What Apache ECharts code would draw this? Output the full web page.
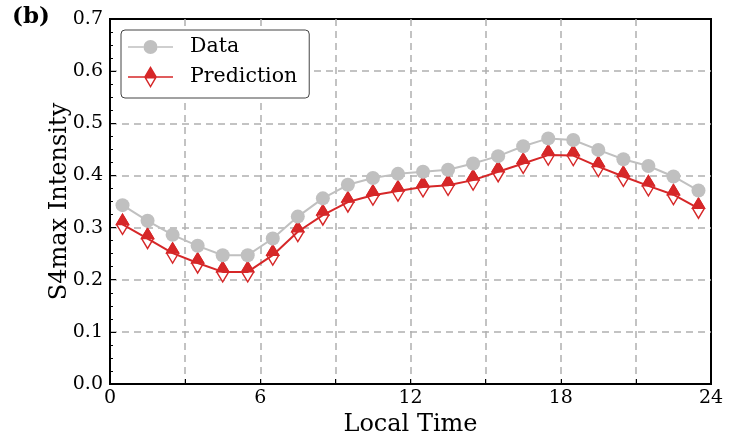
<!DOCTYPE html>
<html>
<head>
<meta charset="utf-8">
<script src="https://cdn.jsdelivr.net/npm/echarts@6/dist/echarts.min.js"></script>
<style>
  html, body { margin: 0; padding: 0; background: #fff; }
  #chart { width: 739px; height: 443px; }
</style>
</head>
<body>
<div id="chart"></div>
<script>
var hours = [0.5, 1.5, 2.5, 3.5, 4.5, 5.5, 6.5, 7.5, 8.5, 9.5, 10.5, 11.5,
  12.5, 13.5, 14.5, 15.5, 16.5, 17.5, 18.5, 19.5, 20.5, 21.5, 22.5, 23.5];
var dataValues = [0.343, 0.313, 0.286, 0.265, 0.247, 0.247, 0.279, 0.321, 0.356, 0.382, 0.395, 0.403,
  0.407, 0.411, 0.423, 0.437, 0.456, 0.471, 0.468, 0.449, 0.431, 0.418, 0.398, 0.371];
var predValues = [0.306, 0.279, 0.251, 0.232, 0.215, 0.215, 0.247, 0.292, 0.324, 0.349, 0.362, 0.370,
  0.378, 0.381, 0.391, 0.407, 0.423, 0.439, 0.438, 0.417, 0.398, 0.380, 0.363, 0.337];
var xTickLabels = [0, 6, 12, 18, 24];
var yTickLabels = ['0.0', '0.1', '0.2', '0.3', '0.4', '0.5', '0.6', '0.7'];

var FONT = 'DejaVu Serif';
var GRAY = '#c0c0c0';
var RED = '#d62728';

function pairs(vals) {
  return hours.map(function (h, i) { return [h, vals[i]]; });
}

// legend icons drawn as paths (line + marker), bbox 45x22
var dataIcon = 'path://M22 0L22.01 0L22 0.01Z M22 22L22.01 22L22 21.99Z ' +
  'M0 10.2L15.5 10.2L15.5 11.8L0 11.8Z M29.5 10.2L45 10.2L45 11.8L29.5 11.8Z ' +
  'M15.5 11A7 7 0 1 0 29.5 11A7 7 0 1 0 15.5 11Z';
var predIcon = 'path://M0 10.25L45 10.25L45 11.75L0 11.75Z ' +
  'M22.5 0L29 11L16 11Z ' +
  'M16 11L29 11L22.5 22Z M18.6 12.4L22.5 19.2L26.4 12.4Z';

var chart = echarts.init(document.getElementById('chart'));

var option = {
  backgroundColor: '#fff',
  animation: false,
  textStyle: { fontFamily: FONT, color: '#000' },
  graphic: [{
    type: 'text', left: 12, top: 6,
    style: { text: '(b)', font: 'bold 23px "DejaVu Serif"', fill: '#000' }
  }],
  grid: {
    left: 110, right: 28, top: 19, bottom: 59,
    show: true, borderColor: '#000', borderWidth: 2, backgroundColor: 'transparent'
  },
  legend: {
    left: 121, top: 30,
    orient: 'vertical',
    itemWidth: 45, itemHeight: 22, itemGap: 8,
    padding: [6, 12, 10, 7],
    backgroundColor: '#fff',
    borderColor: '#444', borderWidth: 1, borderRadius: 4,
    textStyle: { fontFamily: FONT, fontSize: 20.5, color: '#000', padding: [0, 0, 0, 12] },
    data: [
      { name: 'Data', icon: dataIcon, itemStyle: { borderWidth: 0 } },
      { name: 'Prediction', icon: predIcon, itemStyle: { borderWidth: 0 } }
    ]
  },
  xAxis: {
    type: 'value', min: 0, max: 24, interval: 3,
    name: 'Local Time', nameLocation: 'middle', nameGap: 29,
    nameTextStyle: { fontFamily: FONT, fontSize: 24, color: '#000' },
    axisLine: { lineStyle: { color: '#000', width: 2 } },
    axisTick: { inside: true, length: 5, lineStyle: { color: '#000' } },
    axisLabel: {
      fontFamily: FONT, fontSize: 19, color: '#000', margin: 5,
      formatter: function (v) { return xTickLabels.indexOf(v) >= 0 ? String(v) : ''; }
    },
    splitLine: {
      show: true, showMinLine: false, showMaxLine: false,
      lineStyle: { color: '#b0b0b0', width: 1.5, type: [7, 5] }
    }
  },
  yAxis: {
    type: 'value', min: 0, max: 0.7, interval: 0.1,
    name: 'S4max Intensity', nameLocation: 'middle', nameGap: 38,
    nameMoveOverlap: false,
    nameTextStyle: { fontFamily: FONT, fontSize: 24, color: '#000' },
    axisLine: { lineStyle: { color: '#000', width: 2 } },
    axisTick: { inside: true, length: 6, lineStyle: { color: '#000' } },
    minorTick: { show: true, splitNumber: 4, length: 3, lineStyle: { color: '#000' } },
    axisLabel: {
      fontFamily: FONT, fontSize: 19, color: '#000', margin: 7,
      formatter: function (v) { return yTickLabels[Math.round(v * 10)]; }
    },
    splitLine: {
      show: true, showMinLine: false, showMaxLine: false,
      lineStyle: { color: '#b0b0b0', width: 1.5, type: [7, 5] }
    }
  },
  series: [
    {
      name: 'Data', type: 'line', data: pairs(dataValues),
      color: GRAY,
      lineStyle: { color: GRAY, width: 2 },
      symbol: 'circle', symbolSize: 14,
      itemStyle: { color: GRAY, borderWidth: 0 }
    },
    {
      name: 'Prediction', type: 'line', data: pairs(predValues),
      color: RED,
      lineStyle: { color: RED, width: 2 },
      symbol: 'none'
    },
    {
      name: 'Prediction lower', type: 'scatter', data: pairs(predValues),
      symbol: 'path://M0 -10L6 0L0 10L-6 0Z', symbolSize: [12, 20],
      itemStyle: { color: '#fff', borderColor: RED, borderWidth: 1.5, opacity: 1 }
    },
    {
      name: 'Prediction upper', type: 'scatter', data: pairs(predValues),
      symbol: 'path://M0 0L6 10L-6 10Z', symbolSize: [12, 10], symbolOffset: [0, -5],
      itemStyle: { color: RED, borderColor: RED, borderWidth: 1.5, opacity: 1 }
    }
  ]
};

chart.setOption(option);
</script>
</body>
</html>
